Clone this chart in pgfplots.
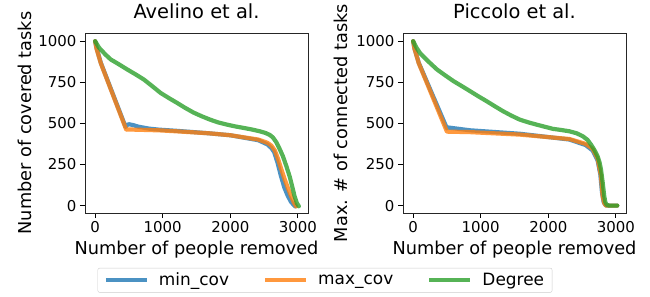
\documentclass[border=0pt]{standalone}
\usepackage{fontspec}
\setmainfont{DejaVu Sans}
\usepackage{pgfplots}
\pgfplotsset{compat=1.18}
\definecolor{mblue}{HTML}{1F77B4}
\definecolor{morange}{HTML}{FF7F0E}
\definecolor{mgreen}{HTML}{2CA02C}
\pgfplotsset{
  myaxis/.style={
    scale only axis, width=223bp, height=180bp,
    xmin=-150, xmax=3150, ymin=-45, ymax=1050,
    xtick={0,1000,2000,3000}, ytick={0,250,500,750,1000},
    tick align=outside, xtick pos=bottom, ytick pos=left,
    major tick length=5bp,
    every tick/.style={black, line width=0.8bp},
    axis line style={line width=0.8bp, black!85},
    /pgf/number format/assume math mode=true,
    /pgf/number format/set thousands separator={},
    tick label style={font=\fontsize{15}{18}\selectfont},
    xlabel style={font=\fontsize{17.8}{20}\selectfont, at={(axis description cs:0.5,-0.205)}, anchor=center},
    ylabel style={font=\fontsize{17.8}{20}\selectfont, anchor=center},
    title style={font=\fontsize{19.5}{22}\selectfont, at={(axis description cs:0.5,1.088)}, anchor=center},
    every axis plot/.append style={line width=4.2bp, opacity=0.8, line join=round, line cap=round},
  }
}
\begin{document}
\begin{tikzpicture}
\begin{axis}[myaxis, at={(85bp,84bp)}, anchor=south west,
  title={Avelino et al.},
  xlabel={Number of people removed},
  ylabel={Number of covered tasks},
  every axis y label/.append style={at={(axis description cs:-0.27,0.5)}},
  legend columns=3,
  legend style={at={(axis description cs:1.076,-0.305)}, anchor=north,
    draw=black!20, rounded corners=2bp, font=\fontsize{17}{20}\selectfont,
    inner xsep=6bp, inner ysep=3bp,
    /tikz/every odd column/.append style={column sep=8bp},
    /tikz/every even column/.append style={column sep=32bp}},
  legend image code/.code={\draw[#1, line width=4.2bp, line cap=butt] (0bp,0bp) -- (41bp,0bp);},
]
\addplot[mblue] coordinates {(0,1000) (20,960) (84,869) (451,478) (470,490) (500,495) (560,490) (640,480) (800,468) (944,462) (1200,455) (1680,440) (2000,428) (2413,398) (2550,372) (2608,350) (2650,325) (2700,260) (2750,180) (2800,110) (2850,60) (2900,22) (2960,-5)};
\addlegendentry{min\_cov}
\addplot[morange] coordinates {(0,1000) (20,955) (84,866) (460,462) (500,463) (944,458) (1200,452) (1680,440) (2000,428) (2413,402) (2550,382) (2608,365) (2660,335) (2706,285) (2760,215) (2805,160) (2850,110) (2902,55) (2940,20) (2975,-5)};
\addlegendentry{max\_cov}
\addplot[mgreen] coordinates {(0,1000) (59,960) (150,920) (231,889) (350,860) (476,828) (600,798) (721,767) (850,725) (970,685) (1100,652) (1212,625) (1330,595) (1456,566) (1580,543) (1701,523) (1820,506) (1947,493) (2070,482) (2191,473) (2320,463) (2437,452) (2520,442) (2584,430) (2630,415) (2682,385) (2730,345) (2779,300) (2830,240) (2878,178) (2920,110) (2951,57) (2985,15) (3015,-4)};
\addlegendentry{Degree}
\end{axis}
\begin{axis}[myaxis, at={(403bp,84bp)}, anchor=south west,
  title={Piccolo et al.},
  xlabel={Number of people removed},
  ylabel={Max. \# of connected tasks},
  every axis y label/.append style={at={(axis description cs:-0.278,0.5)}},
]
\addplot[mblue] coordinates {(0,1000) (20,955) (83,869) (500,470) (520,475) (843,458) (1578,437) (2313,402) (2554,368) (2657,335) (2730,275) (2770,190) (2795,80) (2820,20) (2853,0) (3020,0)};
\addplot[morange] coordinates {(0,1000) (20,955) (83,866) (500,450) (843,447) (1578,432) (2313,405) (2554,375) (2657,345) (2730,285) (2780,180) (2804,60) (2828,15) (2853,0) (3020,0)};
\addplot[mgreen] coordinates {(0,1000) (50,960) (107,925) (230,875) (353,828) (475,792) (598,757) (720,727) (843,696) (965,665) (1088,635) (1210,604) (1332,574) (1455,547) (1578,523) (1700,507) (1823,493) (1945,480) (2068,467) (2190,460) (2313,452) (2420,440) (2510,422) (2580,400) (2632,371) (2680,340) (2730,300) (2760,260) (2780,219) (2805,140) (2828,57) (2845,20) (2862,6) (2900,0) (3020,0)};
\end{axis}
\pgfresetboundingbox
\useasboundingbox (0bp,0bp) rectangle (650bp,297bp);
\end{tikzpicture}
\end{document}
